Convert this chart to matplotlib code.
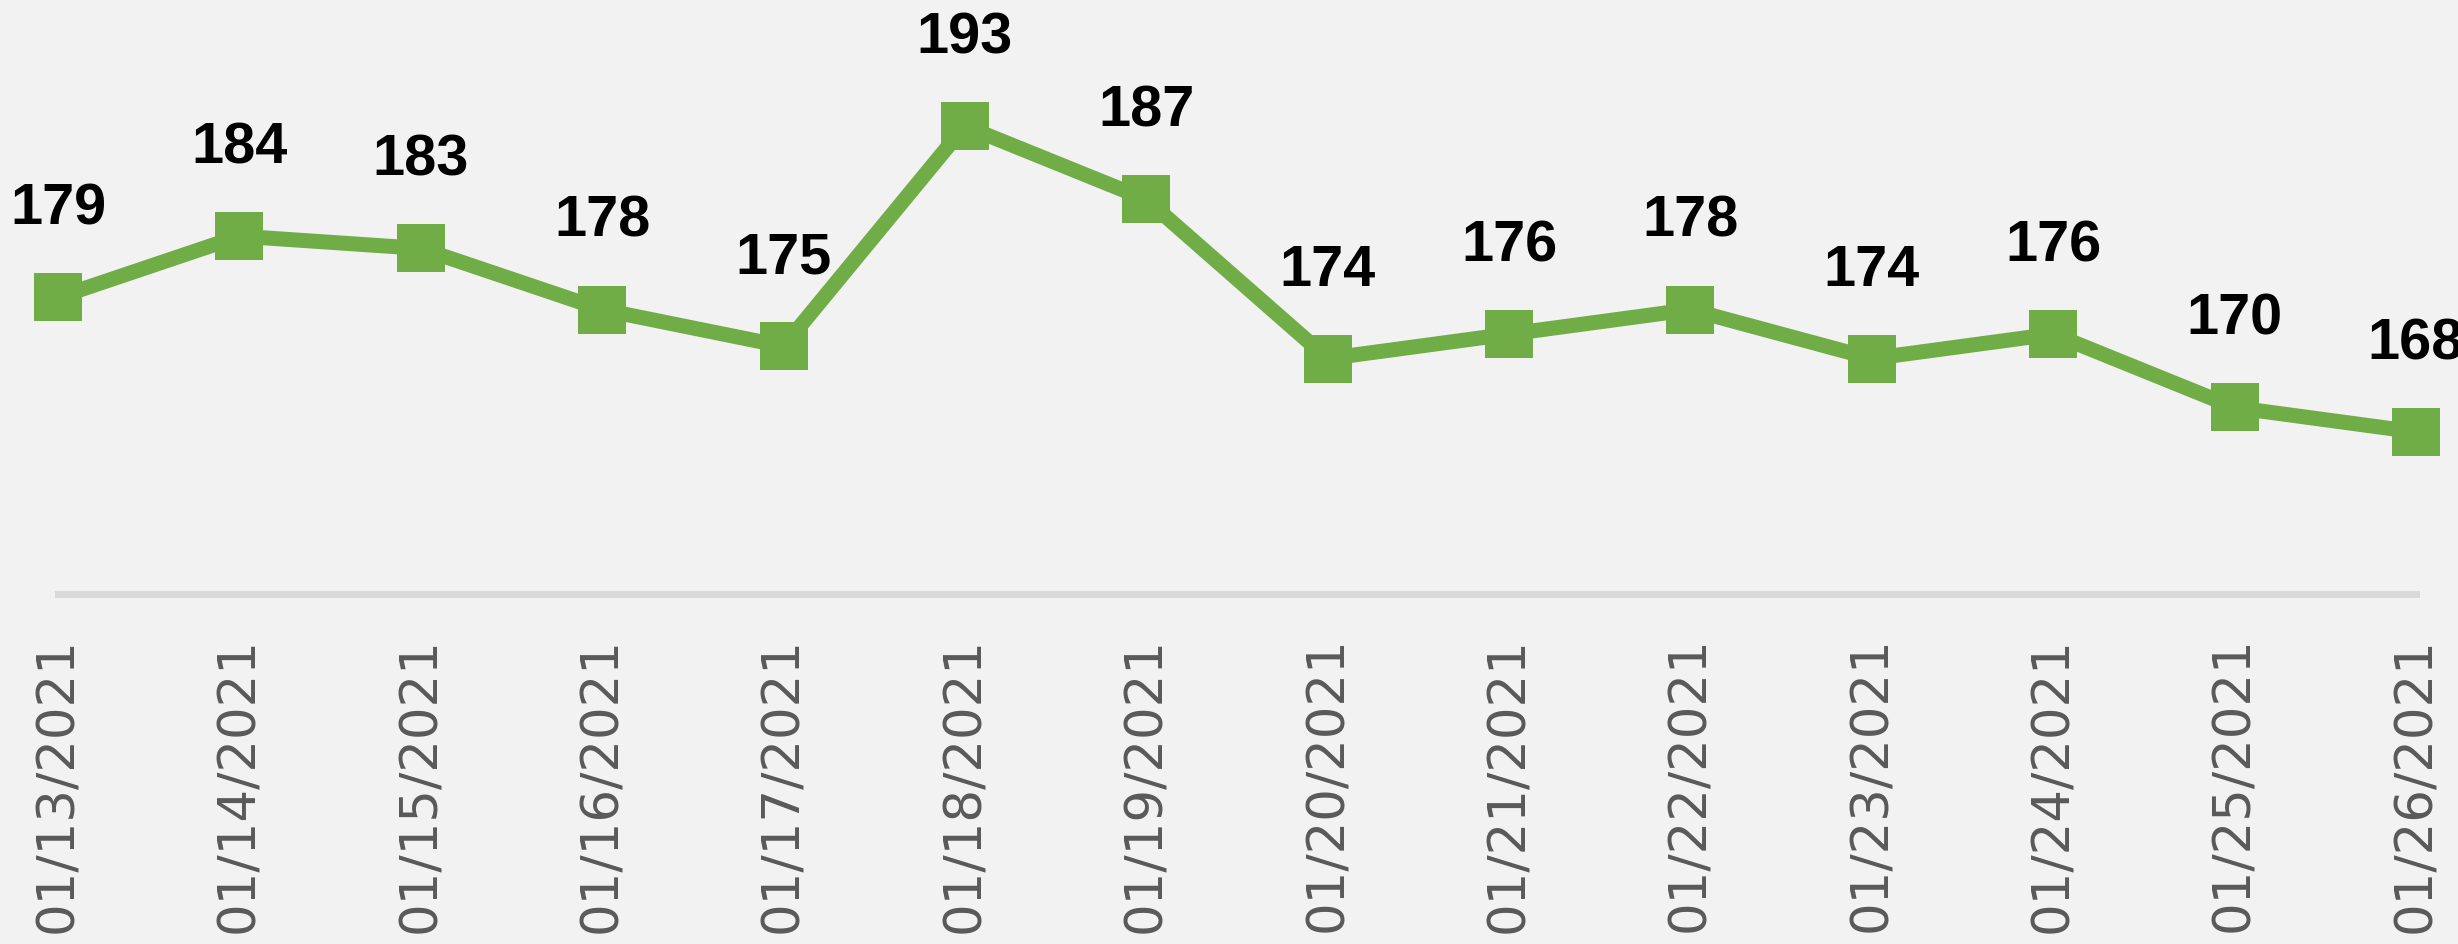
import matplotlib.pyplot as plt

# daily values
dates = ["01/13/2021", "01/14/2021", "01/15/2021", "01/16/2021", "01/17/2021",
         "01/18/2021", "01/19/2021", "01/20/2021", "01/21/2021", "01/22/2021",
         "01/23/2021", "01/24/2021", "01/25/2021", "01/26/2021"]
values = [179, 184, 183, 178, 175, 193, 187, 174, 176, 178, 174, 176, 170, 168]

GREEN = "#70AD47"
BG = "#F2F2F2"

fig = plt.figure(figsize=(24.58, 9.45), dpi=100, facecolor=BG)
ax = fig.add_axes([58 / 2458, 350 / 945, (2416 - 58) / 2458, 595 / 945])
ax.set_facecolor(BG)

xs = list(range(len(values)))
ax.plot(xs, values, color=GREEN, linewidth=10.8, marker="s",
        markersize=34, markeredgewidth=0, clip_on=False, zorder=3)

for x, v in zip(xs, values):
    ax.annotate(str(v), (x, v), xytext=(0, 64), textcoords="offset points",
                ha="center", va="center", fontsize=41.5, fontweight="bold",
                family="Liberation Sans", color="black", annotation_clip=False)

ax.set_xlim(0, len(values) - 1)
ax.set_ylim(154.76, 203.38)

ax.set_xticks(xs)
ax.set_xticklabels(dates, rotation=90, fontsize=37, color="#595959",
                   family="DejaVu Sans")
ax.tick_params(axis="x", length=0, pad=30)
ax.set_yticks([])

for side in ["top", "right", "left"]:
    ax.spines[side].set_visible(False)
ax.spines["bottom"].set_color("#D9D9D9")
ax.spines["bottom"].set_linewidth(5)

fig.savefig("out.png", dpi=100, facecolor=BG)
